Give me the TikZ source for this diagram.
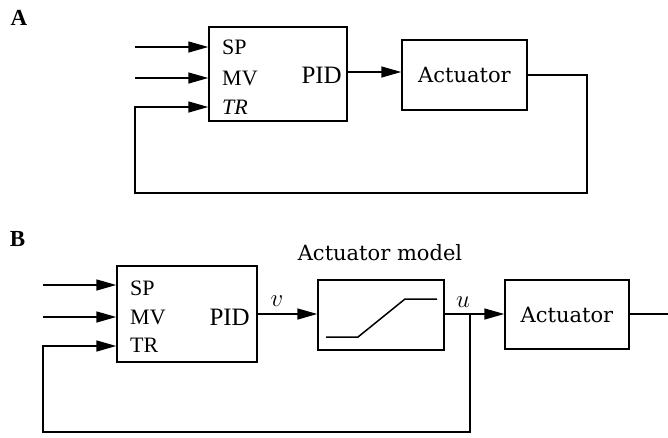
\documentclass[tikz,border=0pt]{standalone}
\usepackage{fontspec}
\setmainfont{Liberation Serif}
\newfontfamily\dvs{DejaVu Serif}
\usetikzlibrary{arrows.meta}
\tikzset{
  blk/.style={draw, line width=1.5pt, inner sep=0pt},
  lbl/.style={inner sep=0pt, anchor=west, font=\fontsize{22}{22}\selectfont},
  pidlbl/.style={inner sep=0pt, anchor=east, font=\fontsize{25}{25}\selectfont},
  actlbl/.style={inner sep=0pt, font=\dvs\fontsize{21}{21}\selectfont},
  panel/.style={inner sep=0pt, font=\bfseries\fontsize{23}{23}\selectfont},
  sig/.style={inner sep=0pt, font=\fontsize{26}{26}\selectfont},
  wire/.style={line width=1.5pt},
  arr/.style={wire, -{Triangle[length=20pt,width=11pt]}}
}
\begin{document}
\begin{tikzpicture}[x=1pt,y=-1pt]
\useasboundingbox (0,0) rectangle (668,437);
% ---------- Panel A ----------
\node[panel] (labA) at (19,18) {A};
\node[blk, minimum width=138pt, minimum height=94pt] (pidA) at (278,74) {};
\node[blk, minimum width=125pt, minimum height=70pt, actlbl] (actA) at (464.5,75) {Actuator};
\node[lbl] (aSP) at (222,47) {SP};
\node[lbl] (aMV) at (222,78) {MV};
\node[lbl] (aTR) at (222,107) {\itshape TR};
\node[pidlbl] (aPID) at (342,75) {PID};
\coordinate (aspin) at (135,47);
\coordinate (amvin) at (135,78);
\coordinate (atrin) at (135,107);
\coordinate (aout) at (0,72);
\coordinate (ar) at (587,75);
\coordinate (al) at (135,193);
\draw[arr] (aspin) -- (aspin -| pidA.west);
\draw[arr] (amvin) -- (amvin -| pidA.west);
\draw[arr] (pidA.east |- aout) -- (actA.west |- aout);
\draw[arr] (actA.east |- ar) -- (ar) |- (al) -- (atrin) -- (atrin -| pidA.west);
% ---------- Panel B ----------
\node[panel] (labB) at (17.5,238.5) {B};
\node[blk, minimum width=140pt, minimum height=96pt] (pidB) at (187,314) {};
\node[blk, minimum width=126pt, minimum height=70pt] (model) at (381,315) {};
\node[blk, minimum width=124pt, minimum height=69pt, actlbl] (actB) at (567,314.5) {Actuator};
\node[actlbl] (mtitle) at (380,253) {Actuator model};
\node[lbl] (bSP) at (130,288) {SP};
\node[lbl] (bMV) at (130,317) {MV};
\node[lbl] (bTR) at (130,345) {TR};
\node[pidlbl] (bPID) at (250,317) {PID};
\node[sig] (vlab) at (277,301) {$v$};
\node[sig] (ulab) at (463,302) {$u$};
\coordinate (bspin) at (43,285);
\coordinate (bmvin) at (43,317);
\coordinate (btrin) at (43,346);
\coordinate (bsig) at (0,314);
\coordinate (junc) at (470,314);
\coordinate (bbot) at (470,432);
\coordinate (bout) at (668,314);
\draw[arr] (bspin) -- (bspin -| pidB.west);
\draw[arr] (bmvin) -- (bmvin -| pidB.west);
\draw[arr] (pidB.east |- bsig) -- (model.west |- bsig);
\draw[arr] (model.east |- bsig) -- (actB.west |- bsig);
\draw[arr] (junc) -- (bbot) -| (btrin) -- (btrin -| pidB.west);
\draw[wire] (actB.east |- bsig) -- (bout);
% saturation curve
\draw[wire] (326,337) -- (358,337) -- (405,299) -- (437,299);
\end{tikzpicture}
\end{document}
